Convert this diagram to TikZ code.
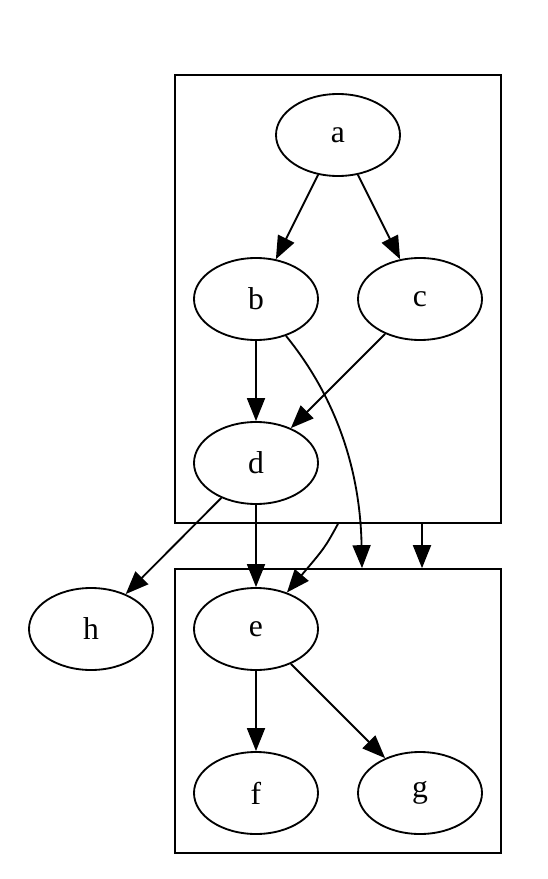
\documentclass[tikz,border=0pt]{standalone}
\usepackage{fontspec}
\setmainfont{Liberation Serif}
\usetikzlibrary{arrows.meta,positioning,fit,shapes.geometric}

\begin{document}
\begin{tikzpicture}[line width=1.05pt,
   state/.style={ellipse, minimum width=2.48cm, minimum height=1.64cm, inner sep=0pt, font=\fontsize{18}{22}\selectfont},
   cluster/.style={draw, rectangle, inner sep=0.36cm},
   >={Triangle[length=0.46cm,width=0.36cm]}]
   \useasboundingbox (0,0) rectangle (10.94,-17.58);
   \node (a) at (6.76,-2.70) [draw, state] {a};

   \node (b) at (5.12,-5.98) [draw, state] {b};
   \node (c) at (8.40,-5.98) [draw, state] {c};
   \node (d) at (5.12,-9.26) [draw, state] {d};
   \node (h) at (1.82,-12.58) [draw, state] {h};
   \node (e) at (5.12,-12.58) [draw, state] {e};
   \node (f) at (5.12,-15.86) [draw, state] {f};
   \node (g) at (8.40,-15.86) [draw, state] {g};

   \node (clusterA) [cluster, fit=(a) (b) (c) (d)] {};
   \node (clusterB) [cluster, fit=(e) (f) (g)] {};

   \coordinate (outA) at (6.76,0 |- clusterA.south);
   \coordinate (inB) at (7.24,0 |- clusterB.north);
   \coordinate (outA2) at (8.44,0 |- clusterA.south);
   \coordinate (inB2) at (8.44,0 |- clusterB.north);

   \draw (a)[->] -- (b);
   \draw (a)[->] -- (c);
   \draw (b)[->] -- (d);
   \draw (c)[->] -- (d);
   \draw (d)[->] -- (h);
   \draw (d)[->] -- (e);
   \draw (e)[->] -- (f);
   \draw (e)[->] -- (g);
   \draw (b)[->] .. controls (6.6,-7.8) and (7.2,-9.2) .. (inB);
   \draw (outA)[->] .. controls (6.5,-10.95) .. (e);
   \draw (outA2)[->] -- (inB2);
\end{tikzpicture}
\end{document}
